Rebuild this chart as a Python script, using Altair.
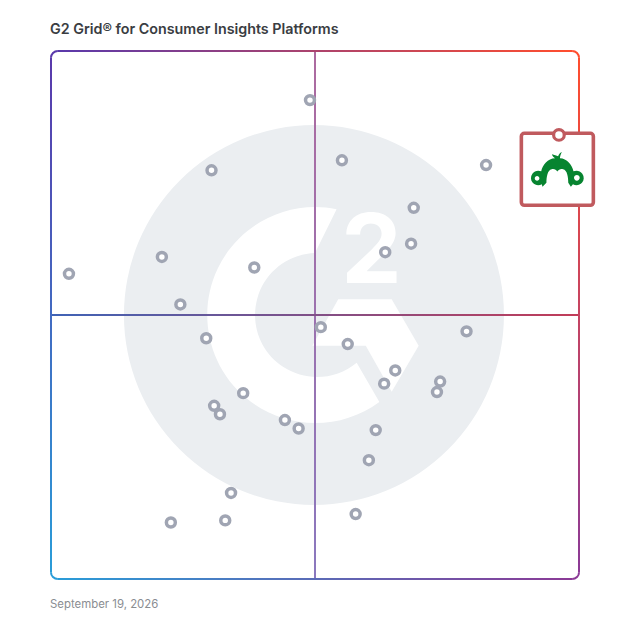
import altair as alt
import pandas as pd

# Grid scores (0-100 on both axes)
satisfaction = [49.05, 30.4, 55.1, 82.4, 68.7, 68.2, 63.3, 21.0, 38.5, 3.4, 24.5, 51.1, 78.7, 29.4, 56.2,
                65.2, 73.7, 63.1, 73.1, 36.4, 30.9, 32.0, 44.3, 46.9, 61.5, 60.2, 34.1, 57.7, 22.7, 33.0]
presence = [90.7, 77.4, 79.3, 78.4, 70.3, 63.5, 61.9, 61.0, 59.0, 57.8, 52.0, 47.7, 46.9, 45.6, 44.5,
            39.5, 37.4, 37.0, 35.4, 35.2, 32.8, 31.2, 30.1, 28.5, 28.2, 22.5, 16.3, 12.3, 10.7, 11.1]
highlight_point = [96.2, 84.1]
highlight_card = [95.9, 77.6]
title_text = "G2 Grid® for Consumer Insights Platforms"
date_text = "September 19, 2026"

SIZE = 528
xs = alt.Scale(domain=[0, 100], range=[0, SIZE], nice=False, zero=False)
ys = alt.Scale(domain=[0, 100], range=[SIZE, 0], nice=False, zero=False)
X = lambda f: alt.X(f, type="quantitative", scale=xs, axis=None)
Y = lambda f: alt.Y(f, type="quantitative", scale=ys, axis=None)

TL, TR, BR, BL = "#5a39ab", "#ff4d2e", "#8b3a96", "#2a9cd8"
ML, MR, MT, MB = "#3f63b6", "#c23c58", "#ad6a9f", "#8a78be"
T = 0.19  # half of the line thickness in score units


def band(x1, x2, y1, y2, c1, c2, horizontal):
    g = alt.Gradient(gradient="linear", x1=0, y1=0, x2=1 if horizontal else 0, y2=0 if horizontal else 1,
                     stops=[alt.GradientStop(color=c1, offset=0), alt.GradientStop(color=c2, offset=1)])
    return alt.Chart(pd.DataFrame({"x": [x1], "x2": [x2], "y": [y1], "y2": [y2]})).mark_rect(fill=g).encode(
        x=X("x"), x2="x2", y=Y("y"), y2="y2")


R = 1.3  # corner inset in score units


def corner(x, y, start, end, color):
    return alt.Chart(pd.DataFrame({"x": [x], "y": [y]})).mark_arc(
        theta=start, theta2=end, radius=7.9, radius2=5.9, color=color).encode(x=X("x"), y=Y("y"))


def glyph(x, y, path, size, color):
    return alt.Chart(pd.DataFrame({"x": [x], "y": [y]})).mark_point(
        shape=path, size=size, filled=True, color=color, opacity=1).encode(x=X("x"), y=Y("y"))


pi = 3.14159265
C_PATH = "M0.2 -0.98 A1 1 0 1 0 0.596 0.805 L0.386 0.441 A0.574 0.574 0 1 1 0 -0.574 Z"
HEX_PATH = "M0.215 -0.145 L0.71 -0.145 L0.96 0.285 L0.71 0.71 L0.47 0.285 L-0.025 0.285 Z"
LOGO_PATH = ("M-0.42 0.52 C-0.42 0.3 -0.38 0.03 -0.22 0 C-0.12 -0.03 -0.05 0.02 0 0.09 "
             "C0.05 0.02 0.12 -0.03 0.22 0 C0.38 0.03 0.42 0.3 0.42 0.52 "
             "L0.52 0.67 L0.60 0.58 A0.28 0.28 0 1 0 0.62 0.08 "
             "C0.58 -0.14 0.36 -0.42 0.10 -0.42 C0.10 -0.50 0.14 -0.58 0.17 -0.67 "
             "C0.10 -0.62 0.05 -0.56 0.03 -0.50 C-0.03 -0.52 -0.12 -0.56 -0.21 -0.58 "
             "C-0.18 -0.50 -0.14 -0.46 -0.09 -0.42 C-0.36 -0.42 -0.58 -0.14 -0.62 0.08 "
             "A0.28 0.28 0 1 0 -0.60 0.58 L-0.57 0.67 Z "
             "M-0.78 0.26 A0.09 0.09 0 1 1 -0.78 0.44 A0.09 0.09 0 1 1 -0.78 0.26 Z "
             "M0.75 0.22 A0.11 0.11 0 1 1 0.75 0.44 A0.11 0.11 0 1 1 0.75 0.22 Z")

layers = [
    # watermark
    alt.Chart(pd.DataFrame({"x": [49.8], "y": [50.0]})).mark_arc(theta=0, theta2=2 * pi, radius=190, radius2=0, color="#ebeef1").encode(x=X("x"), y=Y("y")),
    glyph(50.0, 50.0, C_PATH, 216 ** 2, "#ffffff"),
    glyph(50.0, 50.0, HEX_PATH, 216 ** 2, "#ffffff"),
    alt.Chart(pd.DataFrame({"x": [60.7], "y": [56.06], "t": ["2"]})).mark_text(
        font="Inter", fontWeight=700, fontSize=96, color="#ffffff", baseline="alphabetic", align="center").encode(x=X("x"), y=Y("y"), text="t:N"),
    # quadrant lines
    band(49.81, 50.19, 0, 100, MT, MB, False),
    band(0, 100, 49.81, 50.19, ML, MR, True),
    # frame
    band(R, 100 - R, 100 - T, 100 + T, TL, TR, True),
    band(R, 100 - R, -T, T, BL, BR, True),
    band(-T, T, 100 - R, R, TL, BL, False),
    band(100 - T, 100 + T, 100 - R, R, TR, BR, False),
    corner(R, 100 - R, 3 * pi / 2, 2 * pi, TL),
    corner(100 - R, 100 - R, 0, pi / 2, TR),
    corner(100 - R, R, pi / 2, pi, BR),
    corner(R, R, pi, 3 * pi / 2, BL),
    # products
    alt.Chart(pd.DataFrame({"x": satisfaction, "y": presence})).mark_point(
        filled=False, fill="#ffffff", fillOpacity=1, stroke="#a0a5b3", strokeWidth=3.5, size=80, opacity=1).encode(x=X("x"), y=Y("y")),
    # highlighted product
    alt.Chart(pd.DataFrame({"x": [highlight_card[0]], "y": [highlight_card[1]]})).mark_rect(
        width=72, height=72, cornerRadius=3, fill="#ffffff", stroke="#c05a5e", strokeWidth=3.6).encode(x=X("x"), y=Y("y")),
    glyph(highlight_card[0], highlight_card[1], LOGO_PATH, 52 ** 2, "#078430"),
    alt.Chart(pd.DataFrame({"x": [highlight_point[0]], "y": [highlight_point[1]]})).mark_point(
        filled=False, fill="#ffffff", fillOpacity=1, stroke="#c05a5e", strokeWidth=3.2, size=113, opacity=1).encode(x=X("x"), y=Y("y")),
    # texts
    alt.Chart(pd.DataFrame({"x": [-0.19], "y": [103.2], "t": [title_text]})).mark_text(
        font="Inter", fontWeight=600, fontSize=14.3, color="#3a3d42", align="left", baseline="alphabetic").encode(x=X("x"), y=Y("y"), text="t:N"),
    alt.Chart(pd.DataFrame({"x": [-0.19], "y": [-5.55], "t": [date_text]})).mark_text(
        font="Inter", fontSize=11.4, color="#8a8d92", align="left", baseline="alphabetic").encode(x=X("x"), y=Y("y"), text="t:N"),
]

chart = alt.layer(*layers).properties(
    width=SIZE, height=SIZE,
    autosize=alt.AutoSizeParams(type="none", contains="content"),
    padding={"left": 43, "top": 43, "right": 40, "bottom": 40},
).configure_view(stroke=None, clip=False)

chart.save("out.html", embed_options={"renderer": "svg", "actions": False})
